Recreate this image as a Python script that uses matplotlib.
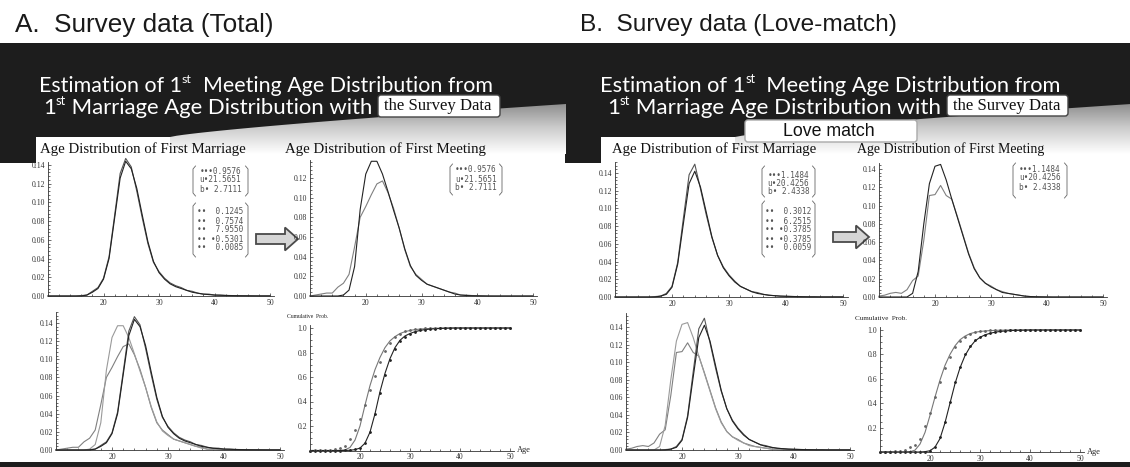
import numpy as np
import matplotlib
matplotlib.use("Agg")
import matplotlib.pyplot as plt
from matplotlib.patches import Rectangle, FancyBboxPatch, Polygon, FancyArrow
from matplotlib.ticker import MultipleLocator, FormatStrFormatter
from matplotlib.colors import LinearSegmentedColormap

# ages 10..50, values
AGES = list(range(10, 51))

MARR_FIT_A = [0, 0, 0, 0, 0, 0, 0, 0.001, 0.004, 0.008,
              0.018, 0.040, 0.083, 0.126, 0.144, 0.136, 0.115, 0.086, 0.058, 0.037,
              0.025, 0.018, 0.013, 0.010, 0.008, 0.006, 0.004, 0.003, 0.002, 0.0015,
              0.001, 0.0008, 0.0006, 0.0004, 0.0003, 0.0002, 0.0002, 0.0001, 0.0001, 0.0001, 0.0001]
MARR_DAT_A = [0, 0, 0, 0, 0, 0, 0.0005, 0.001, 0.005, 0.009,
              0.019, 0.042, 0.086, 0.131, 0.147, 0.138, 0.112, 0.083, 0.056, 0.036,
              0.026, 0.019, 0.014, 0.011, 0.009, 0.006, 0.005, 0.003, 0.002, 0.002,
              0.001, 0.001, 0.0006, 0.0005, 0.0003, 0.0003, 0.0002, 0.0002, 0.0001, 0.0001, 0.0001]
MEET_FIT_A = [0, 0, 0, 0, 0, 0, 0.001, 0.006, 0.030, 0.088,
              0.124, 0.137, 0.137, 0.124, 0.106, 0.087, 0.069, 0.048, 0.031, 0.021,
              0.016, 0.012, 0.010, 0.008, 0.006, 0.004, 0.002, 0.001, 0.0005, 0.0003,
              0.0002, 0.0001, 0, 0, 0, 0, 0, 0, 0, 0, 0]
MEET_DAT_A = [0, 0.001, 0.002, 0.003, 0.003, 0.009, 0.013, 0.022, 0.050, 0.080,
              0.091, 0.103, 0.114, 0.117, 0.105, 0.089, 0.069, 0.047, 0.030, 0.022,
              0.017, 0.012, 0.010, 0.008, 0.006, 0.004, 0.003, 0.001, 0.001, 0.0005,
              0.0003, 0.0002, 0.0001, 0, 0, 0, 0, 0, 0, 0, 0]
CDF_MEET_A = [0, 0, 0, 0, 0, 0, 0.001, 0.005, 0.025, 0.085,
              0.20, 0.37, 0.53, 0.66, 0.76, 0.84, 0.895, 0.93, 0.955, 0.97,
              0.98, 0.987, 0.991, 0.994, 0.996, 0.998, 0.999, 1, 1, 1,
              1, 1, 1, 1, 1, 1, 1, 1, 1, 1, 1]
CDF_MARR_A = [0, 0, 0, 0, 0, 0, 0, 0, 0.002, 0.007,
              0.02, 0.06, 0.15, 0.30, 0.48, 0.63, 0.75, 0.84, 0.90, 0.935,
              0.955, 0.97, 0.98, 0.987, 0.991, 0.994, 0.996, 0.998, 0.999, 1,
              1, 1, 1, 1, 1, 1, 1, 1, 1, 1, 1]
DOTS_MEET_A = [0, 0.001, 0.002, 0.004, 0.006, 0.012, 0.022, 0.04, 0.09, 0.17,
               0.26, 0.37, 0.49, 0.61, 0.72, 0.81, 0.88, 0.925, 0.955, 0.972,
               0.983, 0.99, 0.994, 0.996, 0.998, 0.999, 1, 1, 1, 1,
               1, 1, 1, 1, 1, 1, 1, 1, 1, 1, 1]
DOTS_MARR_A = [0, 0, 0, 0, 0, 0, 0, 0.001, 0.003, 0.01,
               0.022, 0.06, 0.15, 0.30, 0.47, 0.62, 0.74, 0.83, 0.89, 0.93,
               0.955, 0.97, 0.98, 0.987, 0.991, 0.994, 0.996, 0.998, 0.999, 1,
               1, 1, 1, 1, 1, 1, 1, 1, 1, 1, 1]

MARR_FIT_B = [0, 0, 0, 0, 0, 0, 0, 0, 0.001, 0.003,
              0.011, 0.037, 0.083, 0.128, 0.142, 0.124, 0.096, 0.068, 0.047, 0.033,
              0.024, 0.017, 0.012, 0.009, 0.006, 0.004, 0.003, 0.002, 0.0015, 0.001,
              0.0008, 0.0006, 0.0004, 0.0003, 0.0002, 0.0002, 0.0001, 0.0001, 0.0001, 0.0001, 0.0001]
MARR_DAT_B = [0, 0, 0, 0, 0, 0, 0, 0.0005, 0.001, 0.004,
              0.012, 0.039, 0.089, 0.138, 0.150, 0.122, 0.093, 0.067, 0.047, 0.034,
              0.025, 0.018, 0.012, 0.009, 0.006, 0.005, 0.003, 0.002, 0.0015, 0.001,
              0.0008, 0.0006, 0.0005, 0.0003, 0.0002, 0.0002, 0.0001, 0.0001, 0.0001, 0.0001, 0.0001]
MEET_FIT_B = [0, 0, 0, 0, 0, 0, 0.004, 0.028, 0.080, 0.124,
              0.143, 0.145, 0.128, 0.107, 0.087, 0.067, 0.047, 0.031, 0.021, 0.015,
              0.011, 0.008, 0.005, 0.004, 0.003, 0.002, 0.001, 0.0005, 0.0003, 0.0002,
              0.0001, 0, 0, 0, 0, 0, 0, 0, 0, 0, 0]
MEET_DAT_B = [0.001, 0.002, 0.004, 0.005, 0.004, 0.008, 0.018, 0.023, 0.062, 0.111,
              0.112, 0.122, 0.111, 0.107, 0.088, 0.068, 0.048, 0.032, 0.021, 0.015,
              0.012, 0.008, 0.006, 0.004, 0.003, 0.002, 0.001, 0.0005, 0.0003, 0.0002,
              0.0001, 0, 0, 0, 0, 0, 0, 0, 0, 0, 0]
CDF_MEET_B = [0, 0, 0, 0, 0, 0, 0.002, 0.015, 0.065, 0.16,
              0.30, 0.45, 0.59, 0.71, 0.80, 0.87, 0.92, 0.95, 0.97, 0.981,
              0.988, 0.992, 0.995, 0.997, 0.998, 0.999, 1, 1, 1, 1,
              1, 1, 1, 1, 1, 1, 1, 1, 1, 1, 1]
CDF_MARR_B = [0, 0, 0, 0, 0, 0, 0, 0, 0, 0.003,
              0.01, 0.04, 0.11, 0.24, 0.40, 0.56, 0.69, 0.79, 0.86, 0.91,
              0.94, 0.96, 0.973, 0.982, 0.988, 0.992, 0.995, 0.997, 0.998, 0.999,
              1, 1, 1, 1, 1, 1, 1, 1, 1, 1, 1]
DOTS_MEET_B = [0, 0.001, 0.003, 0.008, 0.012, 0.02, 0.04, 0.06, 0.11, 0.21,
               0.32, 0.45, 0.57, 0.69, 0.78, 0.86, 0.91, 0.945, 0.966, 0.98,
               0.988, 0.993, 0.996, 0.998, 0.999, 1, 1, 1, 1, 1,
               1, 1, 1, 1, 1, 1, 1, 1, 1, 1, 1]
DOTS_MARR_B = [0, 0, 0, 0, 0, 0, 0, 0, 0, 0.004,
               0.012, 0.045, 0.12, 0.25, 0.41, 0.57, 0.70, 0.80, 0.87, 0.915,
               0.945, 0.963, 0.976, 0.985, 0.99, 0.994, 0.996, 0.998, 0.999, 1,
               1, 1, 1, 1, 1, 1, 1, 1, 1, 1, 1]

PARAMS_A = ["•••0.9576", "u•21.5651", "b• 2.7111"]
COEFS_A = ["••  0.1245", "••  0.7574", "••  7.9550", "•• •0.5301", "••  0.0085"]
PARAMS_B = ["•••1.1484", "u•20.4256", "b• 2.4338"]
COEFS_B = ["••  0.3012", "••  6.2515", "•• •0.3785", "•• •0.3785", "••  0.0059"]

W, H = 1130, 467
fig = plt.figure(figsize=(W / 100, H / 100), dpi=100)
canvas = fig.add_axes([0, 0, 1, 1])
canvas.axis('off')
canvas.set_xlim(0, W)
canvas.set_ylim(H, 0)
renderer = fig.canvas.get_renderer()

DARK = '#1d1d1d'
FIT_C = '#222222'
DAT_C = '#808080'


def text_width(s, fs, **kw):
    t = canvas.text(0, 0, s, fontsize=fs, **kw)
    w = t.get_window_extent(renderer).width
    t.remove()
    return w


def fit_text(x0, x1, y, s, fs=12, **kw):
    t = canvas.text(x0, y, s, fontsize=fs, va='center', ha='left', **kw)
    w = t.get_window_extent(renderer).width
    t.set_fontsize(fs * (x1 - x0) / w)
    return t


def title_line(x0, x1, base, before, sup, after, fs=16):
    # slide title with a small raised "st"
    kw = dict(family='Lato', color='white', zorder=3)
    parts = [(before, 1.0), (sup, 0.58), (after, 1.0)]
    total = sum(text_width(s, fs * k, **kw) for s, k in parts)
    fs = fs * (x1 - x0) / total
    x = x0
    for s, k in parts:
        dy = 0.42 * fs * 100 / 72 if k < 1 else 0
        canvas.text(x, base - dy, s, fontsize=fs * k, va='baseline', ha='left', **kw)
        x += text_width(s, fs * k, **kw)


def swoosh(ox):
    xs = np.linspace(ox + 170, ox + 566, 60)
    t = (xs - xs[0]) / (xs[-1] - xs[0])
    top = 137 - 33 * t ** 0.8
    verts = list(zip(xs, top)) + [(ox + 566, 154), (ox + 170, 154)]
    poly = Polygon(verts, closed=True, facecolor='none', edgecolor='none')
    canvas.add_patch(poly)
    cmap = LinearSegmentedColormap.from_list('sw', ['#8a8a8a', '#cdcdcd', '#ffffff'])
    grad = np.linspace(0, 1, 100)[:, None]
    im = canvas.imshow(grad, cmap=cmap, extent=[ox + 170, ox + 566, 154, 102],
                       aspect='auto', vmin=0, vmax=1, zorder=1)
    im.set_clip_path(poly)


def param_box(x0, x1, y0, y1, rows, ys):
    kw = dict(color='#666666', lw=0.6, zorder=3)
    canvas.plot([x0 + 2.5, x0, x0, x0 + 2.5], [y0, y0 + 3, y1 - 3, y1], **kw)
    canvas.plot([x1 - 2.5, x1, x1, x1 - 2.5], [y0, y0 + 3, y1 - 3, y1], **kw)
    for r, yy in zip(rows, ys):
        canvas.text((x0 + x1) / 2, yy, r, fontsize=5.6, family='DejaVu Sans Mono',
                    color='#555555', ha='center', va='center', zorder=3)


def label_box(x0, x1, y0, y1, s, tx0, tx1, ec, family):
    canvas.add_patch(FancyBboxPatch((x0, y0), x1 - x0, y1 - y0,
                                    boxstyle='round,pad=0,rounding_size=3',
                                    fc='white', ec=ec, lw=1.0, zorder=4))
    fit_text(tx0, tx1, (y0 + y1) / 2 + 0.5, s, family=family, color='#111111', zorder=5)


def make_axes(xa, xb, ya, yv, v, yt, cdf=False):
    ppy = (xb - xa) / 40.0
    xr = xb + 0.8 * ppy
    ppv = (ya - yv) / v
    ytop = (ya - yt) / ppv
    ax = fig.add_axes([xa / W, (H - ya) / H, (xr - xa) / W, (ya - yt) / H])
    ax.set_xlim(10, 50.8)
    ax.set_ylim(0, ytop)
    ax.patch.set_alpha(0)
    for s in ['top', 'right']:
        ax.spines[s].set_visible(False)
    for s in ['left', 'bottom']:
        ax.spines[s].set_linewidth(0.6)
        ax.spines[s].set_color('#333333')
    ax.set_xticks([20, 30, 40, 50])
    ax.xaxis.set_minor_locator(MultipleLocator(2))
    if cdf:
        ax.set_yticks([0.2, 0.4, 0.6, 0.8, 1.0])
        ax.yaxis.set_minor_locator(MultipleLocator(0.05))
        ax.yaxis.set_major_formatter(FormatStrFormatter('%.1f'))
    else:
        ax.yaxis.set_major_locator(MultipleLocator(0.02))
        ax.yaxis.set_minor_locator(MultipleLocator(0.004))
        ax.yaxis.set_major_formatter(FormatStrFormatter('%.2f'))
    ax.tick_params(which='both', direction='in', width=0.5, colors='#333333',
                   labelsize=5.6, pad=2, labelfontfamily='Liberation Serif')
    ax.tick_params(which='major', length=2.5)
    ax.tick_params(which='minor', length=1.3)
    return ax


def pdf_lines(ax, curves):
    for vals, c, lw in curves:
        ax.plot(AGES, vals, color=c, lw=lw, clip_on=False)


panels = [
    dict(ox=0, head="A.  Survey data (Total)", head_x=(15, 275),
         t1=(39, 492), t2=(43, 375), sd_box=(378, 500, 95, 117), sd_txt=(384, 492),
         st1=(40, 245), st2=(285, 485),
         tl=(48, 270, 296, 165, 0.14, 162), tr=(310, 533, 296, 178, 0.12, 160),
         bl=(56, 280, 450, 323, 0.14, 312), br=(310, 510, 450.5, 328, 1.0, 325),
         p1=(193, 248, 166, 196, [171, 180, 189]), p2=(193, 248, 203, 257, [212, 221, 230, 239, 248]),
         p3=(450, 502, 164, 195, [170, 179, 188]), arrow=(256, 239, 42),
         cum=(287, 328, 316), age=(517, 531, 450),
         mf=MARR_FIT_A, md=MARR_DAT_A, ef=MEET_FIT_A, ed=MEET_DAT_A,
         cm=CDF_MEET_A, cr=CDF_MARR_A, dm=DOTS_MEET_A, dr=DOTS_MARR_A,
         par=PARAMS_A, coef=COEFS_A, love=False),
    dict(ox=565, head="B.  Survey data (Love-match)", head_x=(580, 898),
         t1=(600, 1065), t2=(607, 943), sd_box=(947, 1068, 95, 116), sd_txt=(953, 1061),
         st1=(612, 815), st2=(857, 1045),
         tl=(615, 843, 297, 173, 0.14, 162), tr=(879, 1103, 297, 169, 0.14, 163),
         bl=(626, 850, 450, 327, 0.14, 313), br=(880, 1080, 452, 330, 1.0, 327),
         p1=(762, 815, 166, 197, [175, 183, 192]), p2=(762, 815, 201, 257, [212, 221, 230, 239, 248]),
         p3=(1013, 1067, 163, 198, [169, 178, 188]), arrow=(833, 237, 36),
         cum=(855, 907, 318), age=(1087, 1101, 452),
         mf=MARR_FIT_B, md=MARR_DAT_B, ef=MEET_FIT_B, ed=MEET_DAT_B,
         cm=CDF_MEET_B, cr=CDF_MARR_B, dm=DOTS_MEET_B, dr=DOTS_MARR_B,
         par=PARAMS_B, coef=COEFS_B, love=True),
]

for p in panels:
    ox = p['ox']
    # slide background
    canvas.add_patch(Rectangle((ox, 43), 565, 94, fc=DARK, ec='none', zorder=0))
    canvas.add_patch(Rectangle((ox, 136), 36, 27, fc=DARK, ec='none', zorder=0))
    swoosh(ox)
    fit_text(*p['head_x'], 25, p['head'], family='Liberation Sans', color='#1a1a1a')
    title_line(*p['t1'], 92, 'Estimation of 1', 'st', '  Meeting Age Distribution from')
    title_line(*p['t2'], 114, '1', 'st', ' Marriage Age Distribution with')
    x0, x1, y0, y1 = p['sd_box']
    label_box(x0, x1, y0, y1, 'the Survey Data', *p['sd_txt'], '#444444', 'Liberation Serif')
    if p['love']:
        label_box(745, 917, 120, 142, 'Love match', 783, 875, '#aaaaaa', 'Liberation Sans')
    fit_text(*p['st1'], 149, 'Age Distribution of First Marriage', family='Liberation Serif',
             color='#111111', zorder=3)
    fit_text(*p['st2'], 149, 'Age Distribution of First Meeting', family='Liberation Serif',
             color='#111111', zorder=3)

    x0, x1, y0, y1, ys = p['p1']
    param_box(x0, x1, y0, y1, p['par'], ys)
    x0, x1, y0, y1, ys = p['p2']
    param_box(x0, x1, y0, y1, p['coef'], ys)
    x0, x1, y0, y1, ys = p['p3']
    param_box(x0, x1, y0, y1, p['par'], ys)

    ax_, ay_, al_ = p['arrow']
    canvas.add_patch(FancyArrow(ax_, ay_, al_, 0, width=10, head_width=23, head_length=13,
                                length_includes_head=True, fc='#d6d6d6', ec='#4a4a4a',
                                lw=1.3, zorder=3))

    ax = make_axes(*p['tl'])
    pdf_lines(ax, [(p['md'], '#555555', 0.8), (p['mf'], FIT_C, 0.8)])
    ax = make_axes(*p['tr'])
    pdf_lines(ax, [(p['ed'], DAT_C, 0.8), (p['ef'], FIT_C, 0.8)])
    ax = make_axes(*p['bl'])
    pdf_lines(ax, [(p['ed'], DAT_C, 0.8), (p['ef'], '#9a9a9a', 0.8),
                   (p['md'], '#555555', 0.8), (p['mf'], FIT_C, 0.8)])
    ax = make_axes(*p['br'], cdf=True)
    ax.plot(AGES, p['cm'], color='#777777', lw=0.8)
    ax.plot(AGES, p['cr'], color=FIT_C, lw=0.8)
    ax.plot(AGES, p['dm'], ls='none', marker='o', ms=1.0, color='#666666', clip_on=False)
    ax.plot(AGES, p['dr'], ls='none', marker='o', ms=1.0, color='#222222', clip_on=False)
    fit_text(p['cum'][0], p['cum'][1], p['cum'][2], 'Cumulative  Prob.',
             family='Liberation Serif', color='#222222')
    fit_text(p['age'][0], p['age'][1], p['age'][2], 'Age', family='Liberation Serif',
             color='#222222')

canvas.add_patch(Rectangle((0, 462), W, 6, fc=DARK, ec='none', zorder=0))
canvas.set_xlim(0, W)
canvas.set_ylim(H, 0)

fig.savefig('out.png', dpi=100)
